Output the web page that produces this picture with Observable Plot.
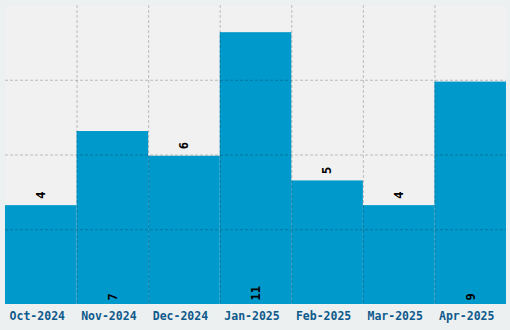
<!DOCTYPE html>
<html>
<head>
<meta charset="utf-8">
<script src="https://cdn.jsdelivr.net/npm/d3@7"></script>
<script src="https://cdn.jsdelivr.net/npm/@observablehq/plot@0.6"></script>
<style>
  html, body { margin: 0; padding: 0; background: #edf0f1; }
  #chart svg { display: block; }
</style>
</head>
<body>
<div id="chart"></div>
<script>
const months = ["Oct-2024", "Nov-2024", "Dec-2024", "Jan-2025", "Feb-2025", "Mar-2025", "Apr-2025"];
const counts = [4, 7, 6, 11, 5, 4, 9];

const data = months.map((m, i) => ({month: m, i, value: counts[i]}));
const yMax = d3.max(counts) * 1.1;
const gridY = [1, 2, 3].map(k => yMax * k / 4);
const gridX = d3.range(1, months.length);
const inside = d => d.value > yMax / 2;

const font = "'DejaVu Sans Mono', monospace";

const chart = Plot.plot({
  width: 510,
  height: 330,
  marginLeft: 5,
  marginRight: 4,
  marginTop: 5,
  marginBottom: 26,
  style: {background: "#edf0f1", fontFamily: font},
  x: {domain: [0, months.length], axis: null},
  y: {domain: [0, yMax], axis: null},
  marks: [
    Plot.frame({fill: "#f1f1f1", stroke: null}),
    Plot.rectY(data, {x1: "i", x2: d => d.i + 1, y: "value", fill: "#0099cc"}),
    Plot.ruleY(gridY, {stroke: "#000", strokeOpacity: 0.22, strokeDasharray: "3,2"}),
    Plot.ruleX(gridX, {stroke: "#000", strokeOpacity: 0.22, strokeDasharray: "3,2"}),
    Plot.text(data.filter(d => !inside(d)), {
      x: d => d.i + 0.5, y: "value", text: d => String(d.value),
      rotate: -90, textAnchor: "start", lineAnchor: "middle", dy: -7,
      fill: "#000", fontSize: 12, fontWeight: "bold", fontFamily: font
    }),
    Plot.text(data.filter(inside), {
      x: d => d.i + 0.5, y: 0, text: d => String(d.value),
      rotate: -90, textAnchor: "start", lineAnchor: "middle", dy: -4,
      fill: "#000", fontSize: 12, fontWeight: "bold", fontFamily: font
    }),
    Plot.axisX(data.map(d => d.i + 0.5), {
      tickSize: 0, tickPadding: 7, dx: -4, label: null,
      tickFormat: v => months[Math.floor(v)],
      fill: "#0e5a8c", fontSize: 11.5, fontWeight: "bold", fontFamily: font
    })
  ]
});
document.getElementById("chart").appendChild(chart);
</script>
</body>
</html>
